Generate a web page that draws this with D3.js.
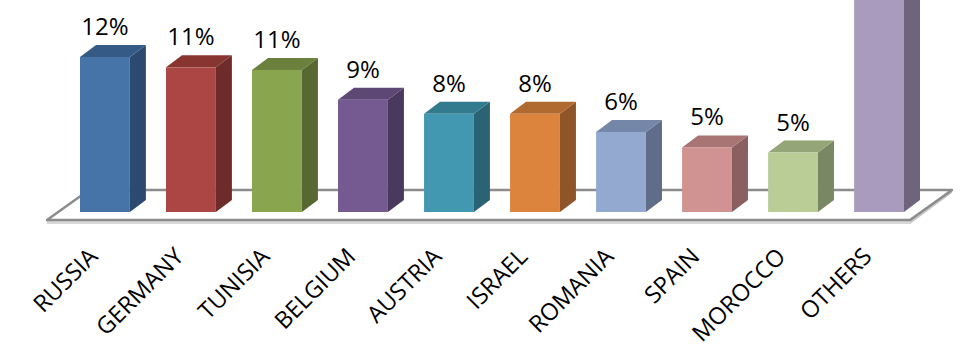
<!DOCTYPE html>
<html>
<head>
<meta charset="utf-8">
<script src="https://cdn.jsdelivr.net/npm/d3@7"></script>
<style>
  body { margin: 0; background: #fff; }
  text { font-family: "Open Sans", sans-serif; fill: #000; }
</style>
</head>
<body>
<script>
const countries = ['RUSSIA', 'GERMANY', 'TUNISIA', 'BELGIUM', 'AUSTRIA', 'ISRAEL', 'ROMANIA', 'SPAIN', 'MOROCCO', 'OTHERS'];
const shares = [12.0, 11.2, 11.0, 8.7, 7.6, 7.6, 6.2, 5.0, 4.6, 26.1];
const valueLabels = ['12%', '11%', '11%', '9%', '8%', '8%', '6%', '5%', '5%', '26%'];
const frontColors = ['#4673a8', '#ab4644', '#89a54e', '#745a90', '#4298b0', '#dc843e', '#93a9d0', '#d19392', '#bacd97', '#a99bbe'];
const topColors = ['#355a86', '#883532', '#6b803c', '#5c4775', '#327a8d', '#b0692f', '#7587a8', '#a87574', '#94a577', '#877b99'];
const sideColors = ['#2c4a6f', '#6d2b29', '#576832', '#4a395e', '#2a6374', '#8f5528', '#5f6d88', '#89605f', '#798762', '#6e657d'];

const width = 967, height = 358;
const base = 212;         // bottom of bar fronts
const depth = { x: 16, y: 12 };

const svg = d3.select('body').append('svg')
    .attr('width', width)
    .attr('height', height);

let x = d3.scaleBand().domain(countries).range([80, 904]).paddingInner(0.42).paddingOuter(0);
let y = d3.scaleLinear().domain([0, 12]).range([base, 57]);

// floor
const floor = svg.append('g');
floor.append('polygon')
    .attr('points', '47,220 910,220 910,224 47,224')
    .attr('fill', '#d8d8d8');
floor.append('polygon')
    .attr('points', '910,220 952,190 952,193 910,224')
    .attr('fill', '#c8c8c8');
floor.append('polygon')
    .attr('points', '47,220 89,190 952,190 910,220')
    .attr('fill', '#fff')
    .attr('stroke', '#8c8c8c')
    .attr('stroke-width', 2.5)
    .attr('stroke-linejoin', 'round');

const w = x.bandwidth();
const bars = svg.selectAll('.bar')
    .data(countries)
    .enter().append('g')
    .attr('class', 'bar');

bars.append('polygon')
    .attr('fill', (d, i) => sideColors[i])
    .attr('points', (d, i) => {
        const x1 = x(d) + w, t = y(shares[i]);
        return [[x1, base], [x1 + depth.x, base - depth.y], [x1 + depth.x, t - depth.y], [x1, t]].join(' ');
    });

bars.append('polygon')
    .attr('fill', (d, i) => topColors[i])
    .attr('points', (d, i) => {
        const x0 = x(d), t = y(shares[i]);
        return [[x0, t], [x0 + depth.x, t - depth.y], [x0 + w + depth.x, t - depth.y], [x0 + w, t]].join(' ');
    });

bars.append('rect')
    .attr('fill', (d, i) => frontColors[i])
    .attr('x', d => x(d))
    .attr('y', (d, i) => y(shares[i]))
    .attr('width', w)
    .attr('height', (d, i) => base - y(shares[i]));

// value labels (the tallest one sits above the picture, as in the original)
svg.selectAll('.value')
    .data(countries.filter((d, i) => y(shares[i]) - 40 > 0))
    .enter().append('text')
    .attr('class', 'value')
    .attr('text-anchor', 'middle')
    .style('font-size', '24px')
    .attr('x', d => x(d) + w / 2)
    .attr('y', d => y(shares[countries.indexOf(d)]) - 22)
    .text(d => valueLabels[countries.indexOf(d)]);

// category labels
svg.selectAll('.cat')
    .data(countries)
    .enter().append('text')
    .attr('class', 'cat')
    .attr('text-anchor', 'end')
    .style('font-size', '23.5px')
    .attr('transform', d => 'translate(' + (x(d) + w / 2 - 6) + ',258) rotate(-45)')
    .text(d => d);
</script>
</body>
</html>
